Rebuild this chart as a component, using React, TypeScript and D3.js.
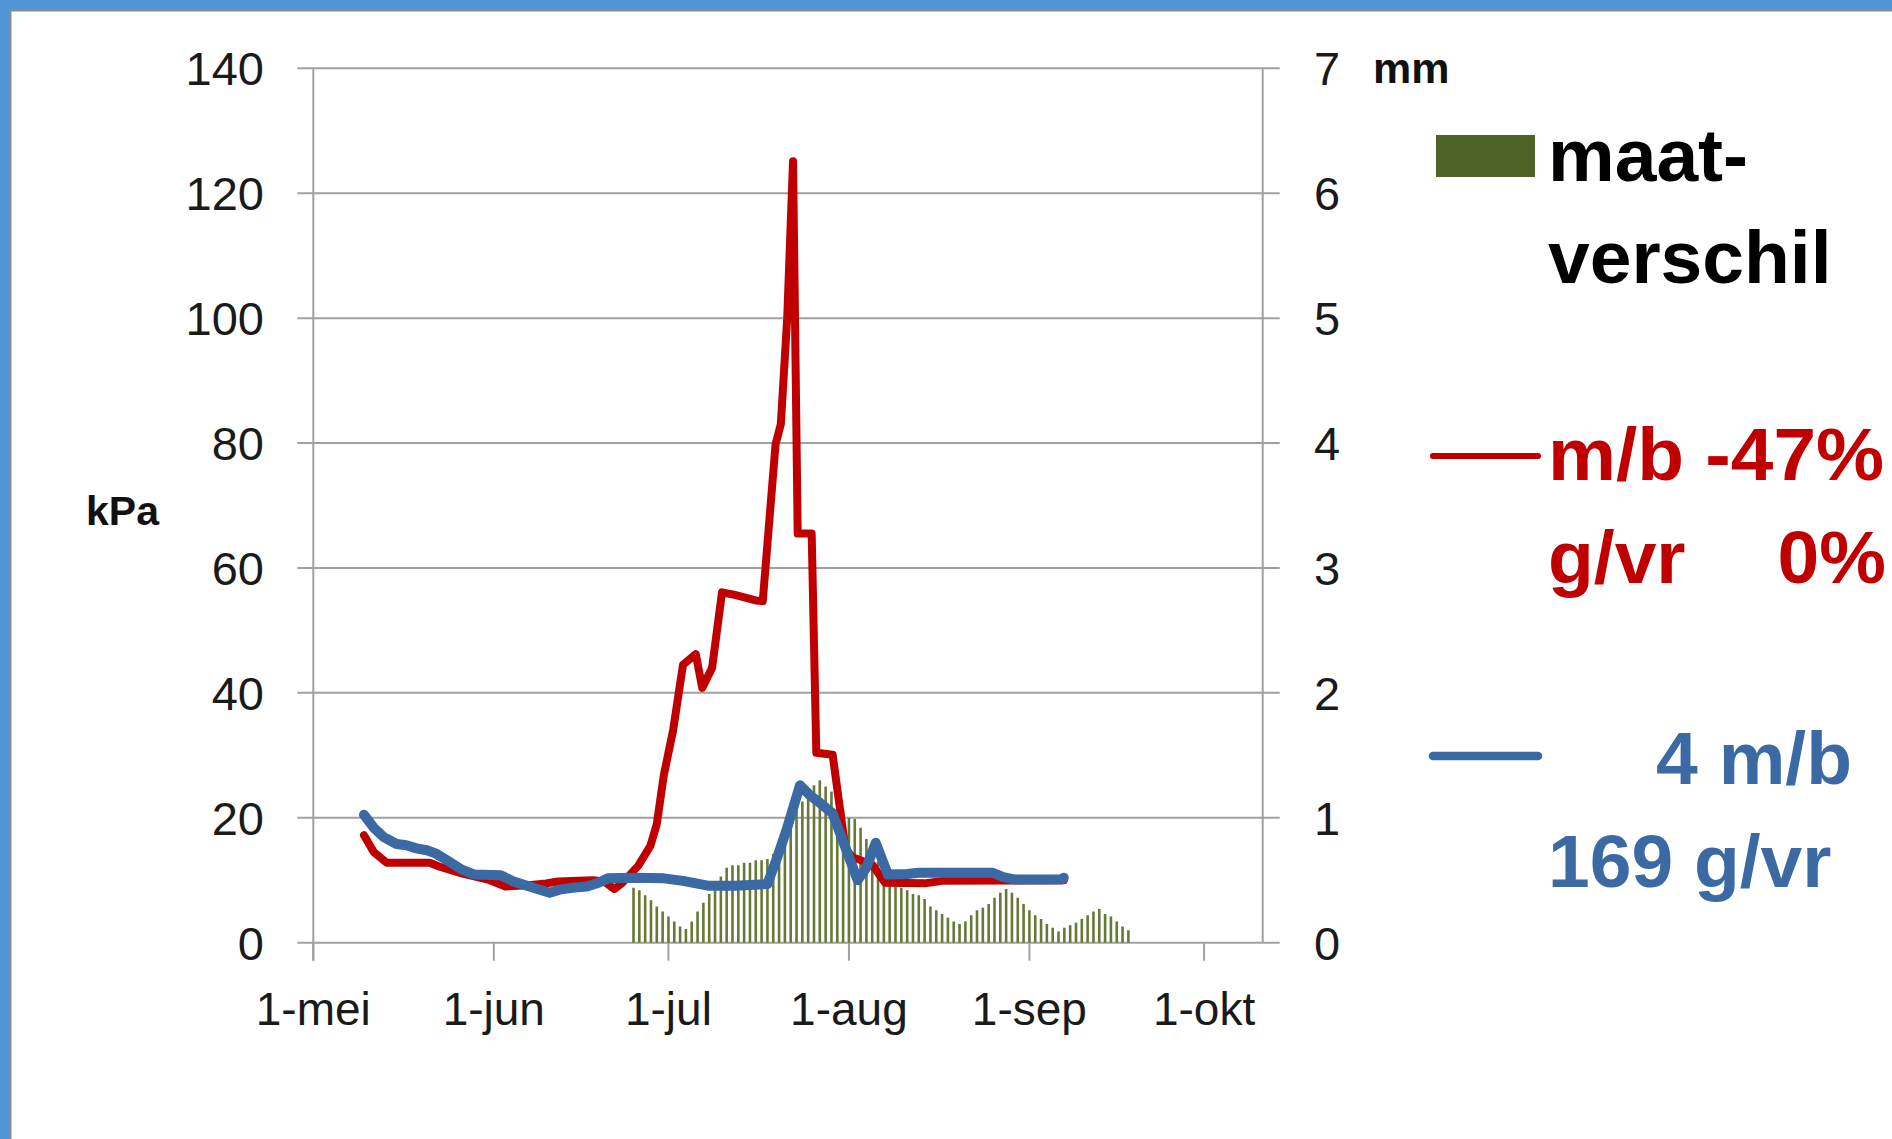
import React from "react";
import * as d3 from "d3";

// ---- data (days counted from 1 May) ----
const monthTicks = [0, 31, 61, 92, 123, 153];
const monthLabels = ["1-mei", "1-jun", "1-jul", "1-aug", "1-sep", "1-okt"];
const leftTicks = [0, 20, 40, 60, 80, 100, 120, 140];
const rightTicks = [0, 1, 2, 3, 4, 5, 6, 7];

// maatverschil (mm), daily from day 55 (25 jun)
const barStartDay = 55;
const barValues = [
  0.44, 0.42, 0.38, 0.34, 0.29, 0.25, 0.21, 0.17, 0.13, 0.11, 0.17, 0.25, 0.32, 0.39, 0.46,
  0.53, 0.6, 0.62, 0.62, 0.64, 0.64, 0.66, 0.66, 0.67, 0.71, 0.76, 0.86, 0.96, 1.06, 1.13,
  1.21, 1.26, 1.3, 1.25, 1.21, 1.13, 1.06, 1.0, 0.99, 0.92, 0.83, 0.74, 0.65, 0.56, 0.51,
  0.45, 0.44, 0.42, 0.39, 0.38, 0.35, 0.29, 0.26, 0.23, 0.2, 0.17, 0.15, 0.17, 0.22, 0.26,
  0.28, 0.31, 0.36, 0.4, 0.43, 0.4, 0.36, 0.31, 0.26, 0.22, 0.19, 0.15, 0.12, 0.09, 0.12,
  0.14, 0.16, 0.19, 0.22, 0.25, 0.27, 0.23, 0.21, 0.17, 0.13, 0.1,
];

// m/b -47%, g/vr 0% (kPa)
const redDays = [8.7, 10.4, 12.6, 20, 21.6, 25.5, 30, 33, 37, 40, 42, 48, 50, 51.7, 53, 55.8, 57.9, 59, 60.2, 61.8, 63.5, 65.7, 66.8, 68.5, 70.2, 72.4, 76, 77.2, 79.4, 80.3, 81.4, 82.4, 83.2, 85.6, 86.4, 89.2, 91.4, 92.6, 96, 98.2, 105, 108, 128.9];
const redKpa = [17.2, 14.5, 12.8, 12.8, 12.2, 11.1, 10.1, 9.0, 9.2, 9.5, 9.8, 10.0, 9.8, 8.6, 9.5, 12.3, 15.5, 19.0, 26.8, 34.0, 44.5, 46.2, 40.8, 44.0, 56.1, 55.7, 54.8, 54.7, 79.8, 83.0, 100.0, 125.1, 65.5, 65.5, 30.4, 30.1, 15.0, 13.7, 12.5, 9.6, 9.5, 9.9, 10.0];

// 4 m/b, 169 g/vr (kPa)
const blueDays = [8.7, 10.4, 12.1, 14.3, 16, 17.7, 19.5, 21, 23.3, 25.5, 27.7, 32.2, 34.4, 36.7, 40.6, 42.3, 44.5, 47, 49, 50.6, 55, 60.2, 63.5, 68, 72.5, 78, 79.7, 81.4, 83.6, 85.3, 87, 89.2, 93.5, 95, 96.6, 98.7, 102, 104, 116.7, 118.5, 120.6, 128.5, 128.9];
const blueKpa = [20.5, 18.4, 16.9, 15.8, 15.6, 15.1, 14.8, 14.3, 13.0, 11.7, 10.9, 10.8, 9.8, 9.1, 8.0, 8.5, 8.8, 9.0, 9.6, 10.3, 10.4, 10.3, 9.9, 9.1, 9.1, 9.4, 13.7, 18.4, 25.2, 23.6, 22.4, 20.7, 10.0, 12.0, 16.0, 10.9, 11.0, 11.2, 11.2, 10.5, 10.1, 10.1, 10.4];

const RED = "#C00000";
const BLUE = "#3B69A4";
const GREEN = "#4F6228";
const GRID = "#a0a0a0";
const FONT = "'Liberation Sans', Arial, sans-serif";

export default function App() {
  const x0 = 313.3, x1 = 1262.7, yTop = 68.3, yBot = 942.7;
  const x = d3.scaleLinear().domain([0, 163.07]).range([x0, x1]);
  const yL = d3.scaleLinear().domain([0, 140]).range([yBot, yTop]);
  const yR = d3.scaleLinear().domain([0, 7]).range([yBot, yTop]);

  const lineGen = d3
    .line<[number, number]>()
    .x((d) => x(d[0]))
    .y((d) => yL(d[1]));
  const redPath = lineGen(redDays.map((d, i) => [d, redKpa[i]]) as [number, number][]) || "";
  const bluePath = lineGen(blueDays.map((d, i) => [d, blueKpa[i]]) as [number, number][]) || "";

  const barW = 2.6;
  const LF = 75;

  return (
    <svg
      width={1892}
      height={1139}
      style={{ position: "absolute", left: 0, top: 0, background: "#fff" }}
      fontFamily={FONT}
    >
      <rect x={0} y={0} width={1892} height={1139} fill="#fff" />
      {/* frame */}
      <rect x={0} y={0} width={1892} height={9} fill="#4F95D3" />
      <rect x={0} y={0} width={9} height={1139} fill="#4F95D3" />
      <rect x={9} y={9} width={1883} height={2.5} fill="#8c8c8c" />
      <rect x={9} y={9} width={2.5} height={1130} fill="#8c8c8c" />

      {/* gridlines */}
      {leftTicks.map((t) => (
        <line key={"g" + t} x1={x0 - 16} x2={x1 + 17} y1={yL(t)} y2={yL(t)} stroke={GRID} strokeWidth={2} />
      ))}
      {/* axes */}
      <line x1={x0} x2={x0} y1={yTop} y2={yBot + 18} stroke={GRID} strokeWidth={2} />
      <line x1={x1} x2={x1} y1={yTop} y2={yBot} stroke={GRID} strokeWidth={2} />
      {monthTicks.map((m) => (
        <line key={"t" + m} x1={x(m)} x2={x(m)} y1={yBot} y2={yBot + 18} stroke={GRID} strokeWidth={2} />
      ))}

      {/* bars */}
      {barValues.map((v, i) => (
        <rect
          key={"b" + i}
          x={x(barStartDay + i) - barW / 2}
          y={yR(v)}
          width={barW}
          height={yBot - yR(v)}
          fill="#667A38"
        />
      ))}

      {/* lines */}
      <path d={redPath} fill="none" stroke={RED} strokeWidth={8} strokeLinejoin="round" strokeLinecap="round" />
      <path d={bluePath} fill="none" stroke={BLUE} strokeWidth={10} strokeLinejoin="round" strokeLinecap="round" />

      {/* tick labels */}
      {leftTicks.map((t) => (
        <text key={"l" + t} x={264} y={yL(t)} dy="0.36em" textAnchor="end" fontSize={47} fill="#1a1a1a">
          {t}
        </text>
      ))}
      {rightTicks.map((t) => (
        <text key={"r" + t} x={1314} y={yR(t)} dy="0.36em" textAnchor="start" fontSize={47} fill="#1a1a1a">
          {t}
        </text>
      ))}
      {monthTicks.map((m, i) => (
        <text key={"m" + m} x={x(m)} y={1025} textAnchor="middle" fontSize={46} fill="#1a1a1a">
          {monthLabels[i]}
        </text>
      ))}
      <text x={86} y={525} fontSize={41} fontWeight="bold" fill="#111">kPa</text>
      <text x={1373} y={83} fontSize={43} fontWeight="bold" fill="#111">mm</text>

      {/* legend */}
      <rect x={1436} y={135} width={99} height={42} fill={GREEN} />
      <text x={1548} y={181} fontSize={LF} fontWeight="bold" fill="#000">maat-</text>
      <text x={1548} y={283} fontSize={LF} fontWeight="bold" fill="#000">verschil</text>

      <line x1={1433} x2={1538} y1={456} y2={456} stroke={RED} strokeWidth={6} strokeLinecap="round" />
      <text x={1548} y={480} fontSize={LF} fontWeight="bold" fill={RED} textLength={336} lengthAdjust="spacingAndGlyphs">m/b -47%</text>
      <text x={1548} y={583} fontSize={LF} fontWeight="bold" fill={RED}>g/vr</text>
      <text x={1886} y={583} textAnchor="end" fontSize={LF} fontWeight="bold" fill={RED}>0%</text>

      <line x1={1433} x2={1538} y1={756} y2={756} stroke={BLUE} strokeWidth={8.5} strokeLinecap="round" />
      <text x={1852} y={784} textAnchor="end" fontSize={LF} fontWeight="bold" fill={BLUE}>4 m/b</text>
      <text x={1548} y={887} fontSize={LF} fontWeight="bold" fill={BLUE}>169 g/vr</text>
    </svg>
  );
}
